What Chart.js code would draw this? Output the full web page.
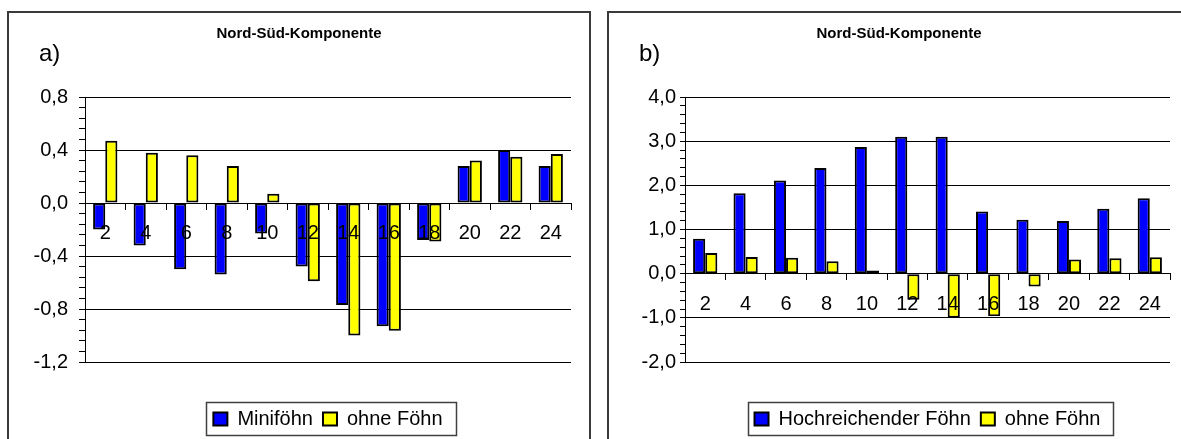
<!DOCTYPE html>
<html lang="de">
<head>
<meta charset="utf-8">
<title>Nord-Süd-Komponente</title>
<script src="https://cdn.jsdelivr.net/npm/chart.js@4.4.1/dist/chart.umd.min.js"></script>
<style>
  html, body { margin: 0; padding: 0; background: #fff; }
  body { width: 1181px; height: 439px; overflow: hidden; position: relative;
         font-family: 'Liberation Sans', Arial, sans-serif; }
  .panel { position: absolute; top: 11px; width: 580px; height: 440px;
           border: 2px solid #3a3a3a; border-bottom: none; background: #fff; }
  .panel canvas { position: absolute; left: 0; top: 0; }
  .tag { position: absolute; left: 30px; top: 28px; font-size: 24px; line-height: 24px; color: #000; }
</style>
</head>
<body>
<div class="panel" style="left:7px">
  <canvas id="chartA" width="580" height="426" style="width:580px;height:426px"></canvas>
  <div class="tag">a)</div>
</div>
<div class="panel" style="left:607px">
  <canvas id="chartB" width="580" height="426" style="width:580px;height:426px"></canvas>
  <div class="tag">b)</div>
</div>
<script>
// Hour of day (categories)
const hours = ['2', '4', '6', '8', '10', '12', '14', '16', '18', '20', '22', '24'];

// North-south wind component per hour
const miniFoehn = [-0.20, -0.32, -0.50, -0.54, -0.23, -0.48, -0.77, -0.93, -0.28, 0.28, 0.40, 0.28];
const hochFoehn = [0.79, 1.82, 2.11, 2.39, 2.87, 3.10, 3.10, 1.41, 1.22, 1.19, 1.47, 1.71];
const ohneFoehn = [0.47, 0.38, 0.36, 0.28, 0.07, -0.59, -1.00, -0.965, -0.29, 0.32, 0.35, 0.37];

const chartTitle = 'Nord-Süd-Komponente';
const nameMini = 'Miniföhn';
const nameHoch = 'Hochreichender Föhn';
const nameOhne = 'ohne Föhn';

// Value axes: bounds, minor tick step, labelled step
const axisA = { min: -1.2, max: 0.8, minor: 0.08, major: 0.4 };
const axisB = { min: -2.0, max: 4.0, minor: 0.2, major: 1.0 };

const FONT = "'Liberation Sans', Arial, sans-serif";
Chart.defaults.font.family = FONT;
Chart.defaults.color = '#000';

// Thin frame around the legend entries
const legendFrame = {
  id: 'legendFrame',
  afterDraw(chart) {
    const boxes = chart.legend && chart.legend.legendHitBoxes;
    if (!boxes || !boxes.length) return;
    const first = boxes[0];
    const last = boxes[boxes.length - 1];
    const cy = first.top + first.height / 2;
    const x1 = Math.round(first.left - 7);
    const x2 = Math.round(last.left + last.width + 13);
    const y1 = Math.round(cy - 17);
    const ctx = chart.ctx;
    ctx.save();
    ctx.strokeStyle = '#404040';
    ctx.lineWidth = 1.5;
    ctx.strokeRect(x1 + 0.5, y1 + 0.5, x2 - x1, 33);
    ctx.restore();
  }
};

function makeChart(canvasId, blueName, blueValues, axis, yTick, side) {
  const isMajor = v => Math.abs(v / axis.major - Math.round(v / axis.major)) < 1e-6;
  const fmt = v => (Math.round(v * 10) / 10).toFixed(1).replace('.', ',');
  return new Chart(document.getElementById(canvasId), {
    type: 'bar',
    data: {
      labels: hours,
      datasets: [
        { label: blueName, data: blueValues, backgroundColor: '#0000ff',
          borderColor: '#000', borderWidth: 2, borderSkipped: false },
        { label: nameOhne, data: ohneFoehn, backgroundColor: '#ffff00',
          borderColor: '#000', borderWidth: 2, borderSkipped: false }
      ]
    },
    options: {
      responsive: false,
      animation: false,
      events: [],
      layout: { padding: { left: side, right: side, top: 0, bottom: 0 } },
      datasets: { bar: { categoryPercentage: 0.6, barPercentage: 1.0 } },
      plugins: {
        title: {
          display: true, text: chartTitle, color: '#000',
          font: { size: 15, weight: 'bold' },
          padding: { top: 11.8, bottom: 54.2 }
        },
        legend: {
          position: 'bottom', fullSize: false,
          labels: { boxWidth: 14, boxHeight: 13, padding: 10, color: '#000', font: { size: 20 } }
        },
        tooltip: { enabled: false }
      },
      scales: {
        // category axis crossing the value axis at 0, drawn above the bars
        x: {
          position: { y: 0 },
          offset: true,
          grid: { offset: true, drawOnChartArea: false, drawTicks: true, tickLength: 6,
                  tickColor: '#000', lineWidth: 1, z: 1 },
          border: { display: true, color: '#000', width: 1, z: 1 },
          ticks: { font: { size: 20 }, color: '#000', padding: 12.5, maxRotation: 0,
                   autoSkip: false, z: 1 }
        },
        // blank band between plot area and legend
        xGap: {
          type: 'category',
          axis: 'x',
          position: 'bottom',
          grid: { display: false, drawTicks: false },
          border: { display: false },
          ticks: { display: false },
          afterFit: s => { s.height = 37; }
        },
        y: {
          min: axis.min,
          max: axis.max,
          grid: {
            color: c => (c.tick && isMajor(c.tick.value)) ? '#000' : 'rgba(0,0,0,0)',
            tickColor: '#000', tickLength: yTick.len, lineWidth: 1
          },
          border: { display: true, color: '#000', width: 1 },
          ticks: {
            stepSize: axis.minor, autoSkip: false, font: { size: 20 }, color: '#000',
            padding: yTick.pad,
            callback: v => isMajor(v) ? fmt(v) : ''
          },
          afterFit: s => { s.width = 76 - side; }
        }
      }
    },
    plugins: [legendFrame]
  });
}

makeChart('chartA', nameMini, miniFoehn, axisA, { len: 6, pad: 11 }, 18);
makeChart('chartB', nameHoch, hochFoehn, axisB, { len: 5, pad: 4 }, 19);
</script>
</body>
</html>
